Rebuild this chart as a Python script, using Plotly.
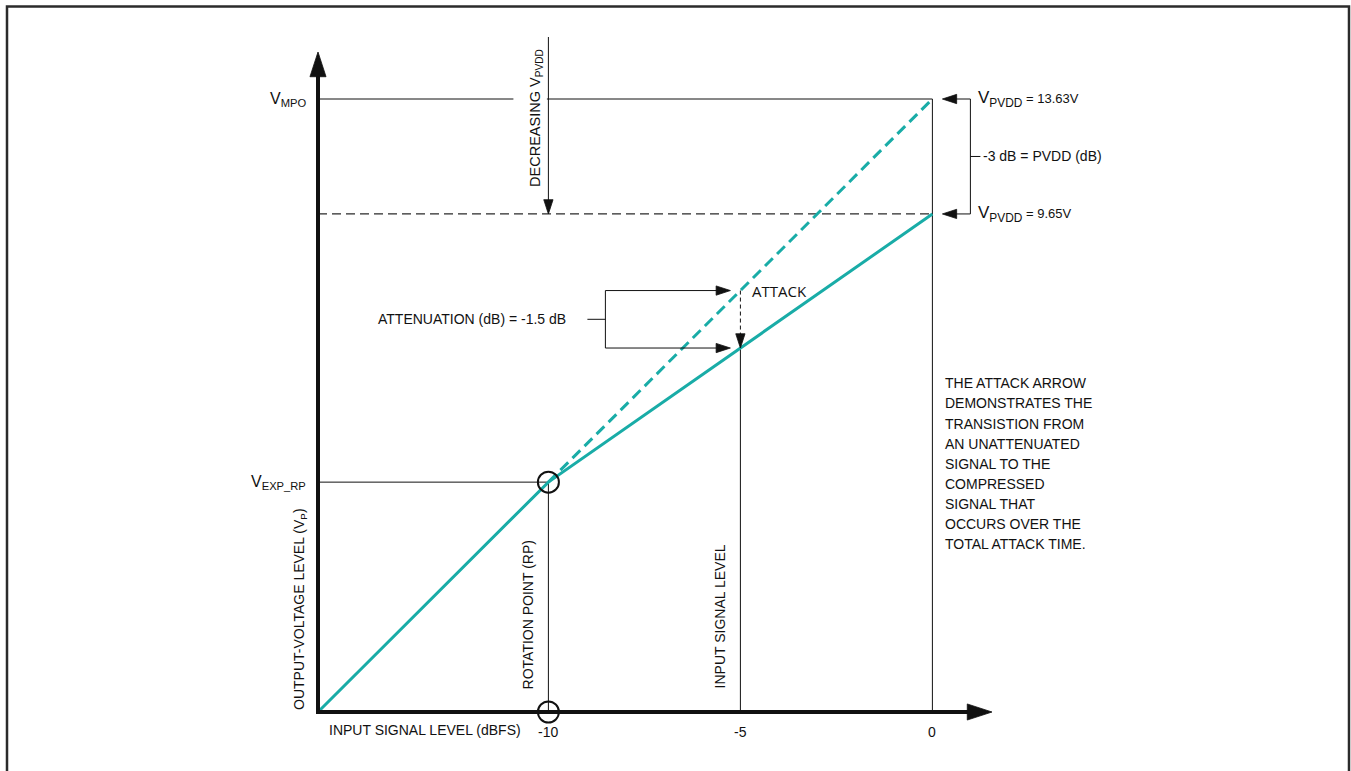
import plotly.graph_objects as go
import numpy as np

# input signal level (dBFS) against output level (dB, 0 = V_MPO)
x_min = -16
x_ticks = [-10, -5, 0]
x_tick_text = ["-10", "-5", "0"]

below_rp_x = [-16, -10]
below_rp_y = [-16, -10]
compressed_x = [-10, 0]
compressed_y = [-10, -3]
unattenuated_x = [-10, 0]
unattenuated_y = [-10, 0]

v_mpo = 0
v_pvdd_low = -3
rp_level = -10
input_level = -5
attenuation_db = -1.5

note_lines = [
    "THE ATTACK ARROW",
    "DEMONSTRATES THE",
    "TRANSISTION FROM",
    "AN UNATTENUATED",
    "SIGNAL TO THE",
    "COMPRESSED",
    "SIGNAL THAT",
    "OCCURS OVER THE",
    "TOTAL ATTACK TIME.",
]

INK = "#111111"
TEAL = "#19aca7"
FONT = "Liberation Sans, Arial, sans-serif"

# page geometry: plot area is the whole page, 1 dB ~ 38 px each way
W, H = 1351, 771
X0_PX, Y0_PX = 318, 712
SX, SY = 38.4, 38.3125


def px(n):
    return n / SX


def py(n):
    return n / SY


def at_y(p):
    return x_min + (Y0_PX - p) / SY


x_range = [x_min - X0_PX / SX, x_min + (W - X0_PX) / SX]
y_range = [x_min - (H - Y0_PX) / SY, x_min + Y0_PX / SY]

attack_top = float(np.interp(input_level, unattenuated_x, unattenuated_y))
attack_bottom = float(np.interp(input_level, compressed_x, compressed_y))
att_mid = (attack_top + attack_bottom) / 2
pvdd_mid = (v_mpo + v_pvdd_low) / 2

fig = go.Figure()


def seg(xs, ys, width=1, dash="solid", color=INK):
    fig.add_trace(
        go.Scatter(
            x=xs,
            y=ys,
            mode="lines",
            line=dict(color=color, width=width, dash=dash),
            hoverinfo="skip",
            showlegend=False,
        )
    )


def arrow(tip, tail, width=1, size=15, dash="solid"):
    fig.add_trace(
        go.Scatter(
            x=[tail[0], tip[0]],
            y=[tail[1], tip[1]],
            mode="lines+markers",
            opacity=1,
            line=dict(color=INK, width=width, dash=dash),
            marker=dict(
                symbol="arrow",
                size=[0, size],
                angleref="previous",
                color=INK,
                opacity=1,
                line=dict(width=0.8, color=INK),
            ),
            hoverinfo="skip",
            showlegend=False,
        )
    )


def label(x, y, text, size=14, xanchor="center", angle=0, family=FONT):
    fig.add_annotation(
        x=x,
        y=y,
        text=text,
        showarrow=False,
        xanchor=xanchor,
        yanchor="middle",
        textangle=angle,
        font=dict(family=family, size=size, color=INK),
    )


# reference lines
seg([x_min, 0], [v_mpo, v_mpo])
seg([x_min, 0], [v_pvdd_low, v_pvdd_low], width=1.2, dash="9px,5px", color="#2a2a2a")
seg([x_min, rp_level], [rp_level, rp_level])
seg([rp_level, rp_level], [x_min, rp_level])
seg([input_level, input_level], [x_min, attack_bottom])
seg([0, 0], [x_min, v_mpo])

# transfer curves
seg(unattenuated_x, unattenuated_y, width=3, dash="11px,6px", color=TEAL)
seg(below_rp_x + compressed_x[1:], below_rp_y + compressed_y[1:], width=3, color=TEAL)

# attack (dashed drop from unattenuated to compressed)
arrow((input_level, attack_bottom), (input_level, attack_top), dash="4px,3px")

fig.add_trace(
    go.Scatter(
        x=[rp_level, rp_level],
        y=[rp_level, x_min],
        mode="markers",
        marker=dict(symbol="circle-open", size=21, line=dict(width=2, color=INK), color=INK),
        hoverinfo="skip",
        showlegend=False,
    )
)

# axes
arrow((x_min, x_min + py(660)), (x_min, x_min - py(2)), width=4, size=26)
arrow((x_min + px(674), x_min), (x_min - px(2), x_min), width=4, size=26)

for t, s in zip(x_ticks, x_tick_text):
    label(t, x_min - py(20), s)
label(x_min + px(9), x_min - py(18), "INPUT SIGNAL LEVEL (dBFS)", xanchor="left")
label(x_min - px(18), x_min + py(103), "OUTPUT-VOLTAGE LEVEL (V<sub>P</sub>)", angle=-90)
label(x_min - px(10), v_mpo, "V<sub>MPO</sub>", size=16, xanchor="right")
label(x_min - px(10), rp_level, "V<sub>EXP_RP</sub>", size=16, xanchor="right")
label(rp_level - px(20), x_min + py(97), "ROTATION POINT (RP)", angle=-90)
label(input_level - px(20), x_min + py(96), "INPUT SIGNAL LEVEL", angle=-90)

# decreasing V_PVDD arrow, with a gap cut in the V_MPO line behind its text
fig.add_shape(
    type="rect",
    x0=rp_level - px(35),
    x1=rp_level - px(1.5),
    y0=v_mpo - py(3),
    y1=v_mpo + py(3),
    fillcolor="white",
    line_width=0,
    layer="above",
)
arrow((rp_level, v_pvdd_low), (rp_level, v_mpo + py(62)))
label(rp_level - px(13), v_mpo - py(18.5), "DECREASING V<sub>PVDD</sub>", size=14.5, angle=-90)

# PVDD bracket on the right
bx = 0 + px(38)
seg([bx, bx], [v_mpo, v_pvdd_low])
seg([bx, bx + px(10)], [pvdd_mid, pvdd_mid])
arrow((0 + px(10), v_mpo), (bx, v_mpo))
arrow((0 + px(10), v_pvdd_low), (bx, v_pvdd_low))
label(
    0 + px(44),
    v_mpo,
    'V<sub>PVDD</sub><span style="font-size:13px"> = 13.63V</span>',
    size=17,
    xanchor="left",
)
label(
    0 + px(44),
    v_pvdd_low,
    'V<sub>PVDD</sub><span style="font-size:13px"> = 9.65V</span>',
    size=17,
    xanchor="left",
)
label(0 + px(49), pvdd_mid, "-3 dB = PVDD (dB)", xanchor="left")

# attenuation bracket
ax_ = input_level - px(135)
seg([ax_, ax_], [attack_top, attack_bottom])
seg([ax_ - px(18), ax_], [att_mid, att_mid])
arrow((input_level - px(10), attack_top), (ax_, attack_top))
arrow((input_level - px(10), attack_bottom), (ax_, attack_bottom))
label(
    input_level - px(172),
    att_mid,
    f"ATTENUATION (dB) = {attenuation_db} dB",
    xanchor="right",
)
label(input_level + px(10), attack_top, "ATTACK", size=15, xanchor="left", family="Open Sans, sans-serif")

# note block
for i, line in enumerate(note_lines):
    label(0 + px(11), at_y(383.3 + i * 20.1), line, xanchor="left")

# outer frame
fig.add_shape(
    type="rect",
    xref="paper",
    yref="paper",
    x0=7 / W,
    x1=1349 / W,
    y0=-0.05,
    y1=1 - 6.5 / H,
    line=dict(color="#2b2b2b", width=2.5),
    layer="above",
)

fig.update_layout(
    width=W,
    height=H,
    margin=dict(l=0, r=0, t=0, b=0, pad=0),
    paper_bgcolor="white",
    plot_bgcolor="white",
    showlegend=False,
    hovermode=False,
    xaxis=dict(range=x_range, visible=False, fixedrange=True),
    yaxis=dict(range=y_range, visible=False, fixedrange=True),
)

fig.write_html(
    "out.html",
    config={"displayModeBar": False},
    post_script="document.body.style.margin = '0';",
)
